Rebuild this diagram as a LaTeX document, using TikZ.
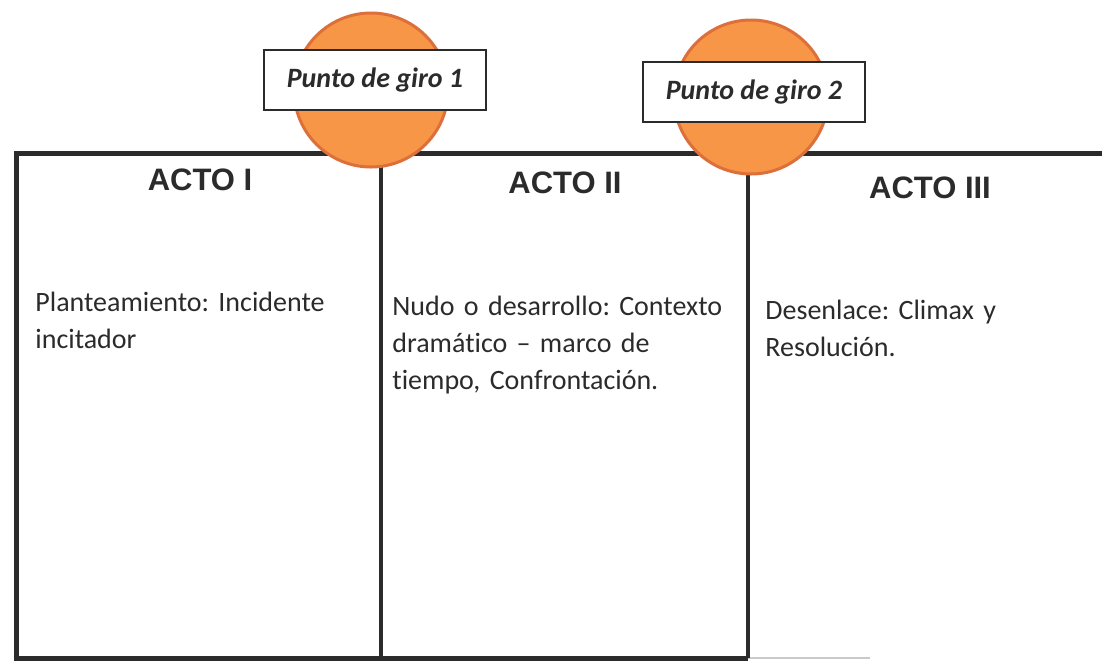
\documentclass[tikz,border=0pt]{standalone}
\usepackage{fontspec}
\setmainfont{Carlito}[Ligatures=NoCommon]
\newfontfamily\actofont{Liberation Sans}
\usetikzlibrary{positioning}
\definecolor{giroorange}{HTML}{F79646}
\definecolor{girorim}{HTML}{DD6F3A}
\definecolor{ink}{HTML}{2B2B2B}
\frenchspacing
\tikzset{frame/.style={draw=ink,line width=2.5pt},
         divider/.style={draw=ink,line width=2pt},
         giro/.style={circle,draw=girorim,line width=1.5pt,fill=giroorange,minimum size=77pt,inner sep=0pt},
         girolabel/.style={draw=ink,line width=0.8pt,fill=white,minimum width=111pt,minimum height=30pt,inner sep=0pt,font=\bfseries\itshape\fontsize{14}{16}\selectfont,text=ink},
         actotitle/.style={font=\actofont\bfseries\fontsize{15.5}{18}\selectfont,text=ink,inner sep=0pt},
         actobody/.style={anchor=north west,align=left,text width=175pt,inner sep=0pt,font=\fontsize{14}{18.3}\selectfont,text=ink},
        }

\begin{document}
\begin{tikzpicture}[x=0.5pt,y=-0.5pt]
        \useasboundingbox (0,0) rectangle (1102,665);

        % frame of the three acts
        \coordinate (tl) at (16,153);
        \coordinate (tr) at (1102,153);
        \coordinate (bl) at (16,658);
        \coordinate (br) at (748,658);
        \coordinate (bfade) at (870,658);
        \coordinate (d1top) at (381,153);
        \coordinate (d1bot) at (381,658);
        \coordinate (d2top) at (748,153);
        \draw[frame](tr)--(tl)--(bl)--(br);
        \draw[ink!25,line width=1pt](br)--(bfade);
        \draw[divider](d1top)--(d1bot);
        \draw[divider](d2top)--(br);

        % turning points
        \node[giro](giro1)at(371,90){};
        \node[giro](giro2)at(751,97){};
        \node[girolabel](pg1)at(375,80){Punto de giro 1};
        \node[girolabel](pg2)at(754,92){Punto de giro 2};

        \node[actotitle](acto1)at(200,180){ACTO I};
        \node[actotitle](acto2)at(565,183){ACTO II};
        \node[actotitle](acto3)at(930,188){ACTO III};

        \node[actobody](txt1)at(35,292){Planteamiento: Incidente\\incitador};
        \node[actobody](txt2)at(392,296){Nudo o desarrollo: Contexto\\dramático – marco de\\tiempo, Confrontación.};
        \node[actobody](txt3)at(765,300){Desenlace: Climax y\\Resolución.};
    \end{tikzpicture}
\end{document}
